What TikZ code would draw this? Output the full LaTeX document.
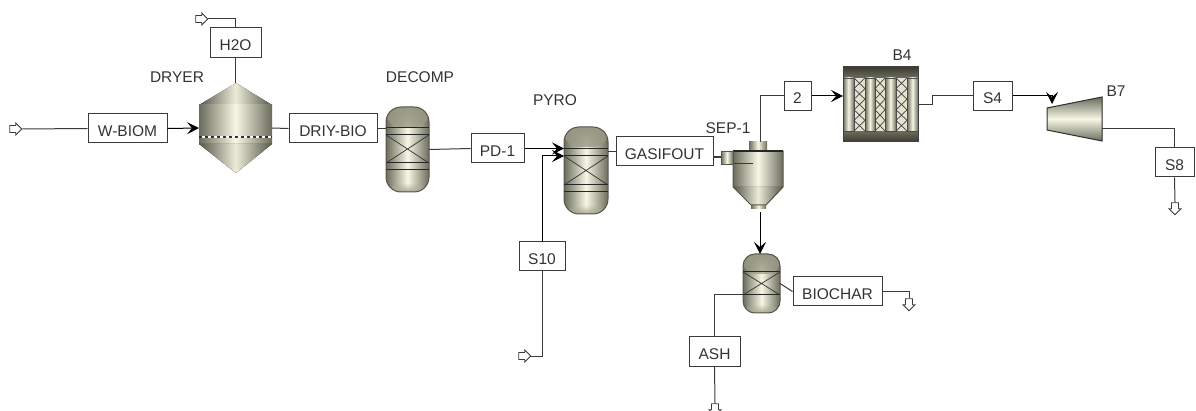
\documentclass[tikz,border=0pt]{standalone}
\usepackage{fontspec}
\setmainfont{Liberation Sans}
\usetikzlibrary{arrows.meta,shapes.arrows,fadings}
\definecolor{steeldeep}{HTML}{55554A}
\definecolor{steeldark}{HTML}{6C6C5E}
\definecolor{steelmid}{HTML}{A9A994}
\definecolor{steellight}{HTML}{F7F7E4}
\definecolor{linegray}{HTML}{3A3A3A}
\tikzset{
  stream/.style={draw=linegray,line width=1pt,fill=white,inner sep=0pt,minimum height=29pt,text height=16pt,text depth=0pt,font=\fontsize{15.5}{17}\selectfont,text=black!80},
  tag/.style={font=\fontsize{15.5}{17}\selectfont,text=black!80,inner sep=0pt},
  steel/.style={left color=steeldark,right color=steeldark,middle color=steellight},
  steelcone/.style={left color=steeldeep,right color=steeldeep,middle color=steellight!85!steelmid},
  steelh/.style={top color=steeldark,bottom color=steeldark,middle color=steellight},
  hull/.style={inner sep=0pt,outer sep=0pt},
  vessel/.style={hull,steel,draw=steeldeep,line width=1pt,rounded corners=15pt,
    path picture={
      \fill[steelmid!70!steeldark,path fading=south] (path picture bounding box.north west) rectangle ([yshift=-20pt]path picture bounding box.north east);
      \fill[steelmid,path fading=north] ([yshift=9pt]path picture bounding box.south west) rectangle (path picture bounding box.south east);
    }},
  pipe/.style={draw=linegray,line width=1pt},
  feed/.style={pipe,-{Stealth[length=12pt,width=12pt,inset=5pt]},black},
  open/.style={single arrow,draw=linegray,line width=0.9pt,fill=white,inner sep=3pt,minimum height=12pt,minimum width=12pt,single arrow head extend=2.5pt,single arrow head indent=0pt},
  bed/.style={draw=black!85,line width=1pt},
  cross/.style={draw=black!80,line width=0.7pt}
}
\begin{document}
\begin{tikzpicture}[x=1pt,y=-1pt]
  \clip (0,0) rectangle (1196,411);
  % Dryer
  \node[hull,minimum width=73pt,minimum height=90pt] (dryer) at (235.5,128) {};
  \fill[steelcone] (236,83) -- (272,105) -- (199,105) -- cycle;
  \fill[steel] (199,105) rectangle (272,144);
  \fill[steelcone] (199,144) -- (272,144) -- (236,173) -- cycle;
  \draw[white,line width=1.2pt] (199,137) -- (272,137);
  \draw[black!80,line width=1.2pt,dash pattern=on 3pt off 3pt] (199,137) -- (272,137);
  % Reactors
  \node[vessel,minimum width=43pt,minimum height=85pt] (decomp) at (407.5,149.5) {};
  \node[vessel,minimum width=44pt,minimum height=87pt] (pyro) at (586,170.5) {};
  \node[vessel,minimum width=37pt,minimum height=59pt,rounded corners=12pt] (flash) at (761.5,283.5) {};
  \foreach \y in {128,135,163,170} \draw[bed] (386,\y) -- (429,\y);
  \draw[cross] (386,135) -- (429,163) (386,163) -- (429,135);
  \foreach \y in {149,156,185,192} \draw[bed] (564,\y) -- (608,\y);
  \draw[cross] (564,156) -- (608,185) (564,185) -- (608,156);
  \foreach \y in {272,295} \draw[bed] (743,\y) -- (780,\y);
  \draw[cross] (743,272) -- (780,295) (743,295) -- (780,272);
  % Cyclone
  \node[hull,minimum width=50pt,minimum height=67pt] (sep) at (758,175.5) {};
  \fill[steel] (749,142) rectangle (767,151);
  \fill[steel] (751,205) rectangle (766,209);
  \fill[steel] (733,151) rectangle (783,187);
  \fill[steelcone] (733,187) -- (783,187) -- (766,205) -- (751,205) -- cycle;
  \draw[steeldeep,line width=1pt] (733,151) -- (733,187) -- (751,205) -- (766,205) -- (783,187) -- (783,151);
  \draw[black!85,line width=1.2pt] (733,151) -- (783,151);
  \draw[linegray,line width=1pt] (733,164) -- (753,164);
  \draw[steel,draw=steeldeep,line width=1pt] (733,152) -- (721,152) -- (721,165) -- (733,165) -- cycle;
  \coordinate (sepin) at (721,157);
  \coordinate (sepgas) at (760,142);
  \coordinate (sepsolid) at (760,212);
  % Heat exchanger
  \node[hull,minimum width=75pt,minimum height=75pt] (hx) at (880.5,104.5) {};
  \fill[top color=steeldeep!70!black,bottom color=steeldark] (843,67) rectangle (918,78);
  \fill[top color=steeldark,bottom color=steeldeep!70!black] (843,131) rectangle (918,142);
  \fill[steellight!75!steelmid] (854,78) rectangle (907,131);
  \foreach \a/\b in {843/854,865/875,885/896,907/918} {
    \fill[steel] (\a,78) rectangle (\b,131);
    \draw[black!70] (\a,78) rectangle (\b,131);
  }
  \foreach \a/\b in {854/865,875/885,896/907} {
    \foreach \y in {78,88.6,99.2,109.8,120.4} {
      \draw[black!75,line width=0.7pt] (\a,\y) -- (\b,\y+10.6) (\a,\y+10.6) -- (\b,\y);
    }
  }
  \draw[black!75,line width=1pt] (843,67) rectangle (918,142);
  % Turbine
  \node[hull,minimum width=55pt,minimum height=44pt] (turb) at (1074.5,119) {};
  \fill[steelh,draw=black!80,line width=1pt] (1047,108) -- (1102,97) -- (1102,141) -- (1047,130) -- cycle;
  \coordinate (turbin) at (1052,104);
  % Stream tags
  \node[stream,minimum width=79pt] (wbiom) at (127.5,128.5) {W-BIOM};
  \node[stream,minimum width=51pt,minimum height=30pt] (hto) at (235.5,43) {H2O};
  \node[stream,minimum width=88pt] (driy) at (333,128.5) {DRIY-BIO};
  \node[stream,minimum width=53pt] (pdone) at (497.5,148.5) {PD-1};
  \node[stream,minimum width=46pt] (sten) at (542,256.5) {S10};
  \node[stream,minimum width=97pt] (gasif) at (664.5,151.5) {GASIFOUT};
  \node[stream,minimum width=27pt] (two) at (797.5,96) {2};
  \node[stream,minimum width=39pt] (sfour) at (992.5,96) {S4};
  \node[stream,minimum width=39pt] (seight) at (1174.5,162.5) {S8};
  \node[stream,minimum width=89pt] (biochar) at (837.5,291.5) {BIOCHAR};
  \node[stream,minimum width=51pt] (ash) at (714.5,351.5) {ASH};
  % Ports
  \node[open] (wbiomin) at (14,129) {};
  \node[open] (htoout) at (200,19) {};
  \node[open] (stenin) at (523,356) {};
  \node[open,shape border rotate=270] (biocharout) at (909,303) {};
  \node[open,shape border rotate=270] (ashout) at (715,408) {};
  \node[open,shape border rotate=270] (seightout) at (1175,207) {};
  % Streams
  \draw[pipe] (wbiomin.tip) -- (wbiom.west);
  \draw[feed] (wbiom.east) -- (dryer.west);
  \draw[pipe] (dryer.north) -- (hto.south);
  \draw[pipe] (hto.north) |- (htoout.tip);
  \draw[pipe] (dryer.east) -- (driy.west);
  \draw[pipe] (driy.east) -- (386,128.5);
  \draw[pipe] (decomp.east) -- (pdone.west);
  \draw[feed] (pdone.east) -- (pyro.west |- pdone.east);
  \draw[feed] (sten.north) |- (pyro.west |- 0,156);
  \draw[pipe] (sten.south) |- (stenin.tip);
  \draw[pipe] (pyro.east |- gasif.west) -- (gasif.west);
  \draw[pipe,line width=1.6pt] (gasif.east |- sepin) -- (sepin);
  \draw[pipe] (sepgas) |- (two.west);
  \draw[feed] (two.east) -- (hx.west |- two.east);
  \draw[pipe] (hx.east) -- (932,104.5) |- (sfour.west);
  \draw[feed] (sfour.east) -| (turbin);
  \draw[pipe] (turb.east |- 0,129) -| (seight.north);
  \draw[pipe] (seight.south) -- (seightout.tail);
  \draw[feed] (sepsolid) -- (sepsolid |- flash.north);
  \draw[pipe] (flash.east) -- (biochar.west);
  \draw[pipe] (biochar.east) -| (biocharout.tail);
  \draw[pipe] (flash.west |- 0,295) -| (ash.north);
  \draw[pipe] (ash.south) -- (ashout.tail);
  % Block names
  \node[tag] (dryername) at (177,77) {DRYER};
  \node[tag] (decompname) at (420,77) {DECOMP};
  \node[tag] (pyroname) at (555,100) {PYRO};
  \node[tag] (sepname) at (728,128) {SEP-1};
  \node[tag] (hxname) at (902,55) {B4};
  \node[tag] (turbname) at (1116,91) {B7};
\end{tikzpicture}
\end{document}
